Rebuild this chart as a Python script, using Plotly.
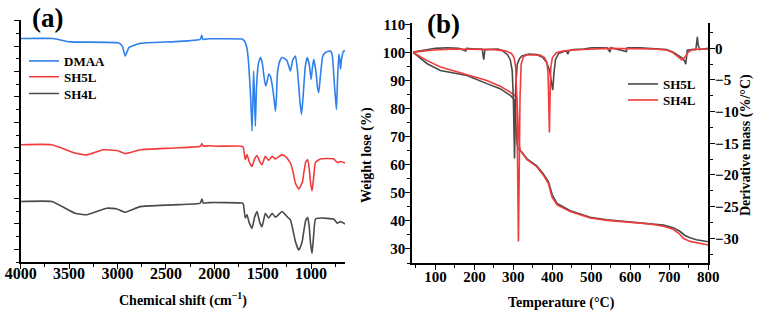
import plotly.graph_objects as go

# ---------------- Panel (a): FTIR spectra (arbitrary offset units) ----------------
dmaa_w = [4000, 3666, 3490, 2993, 2950, 2921, 2880, 2766, 2400, 2145, 2130, 2118, 2050, 1714, 1700, 1680,
          1662, 1645, 1625, 1610, 1600, 1594, 1585, 1576, 1565, 1545, 1524, 1505, 1490, 1470, 1455,
          1438, 1421, 1395, 1380, 1369, 1358, 1349, 1325, 1300, 1270, 1248, 1230, 1214, 1190, 1162,
          1140, 1115, 1100, 1085, 1060, 1041, 1020, 1000, 985, 973, 950, 935, 921, 905, 880, 852, 820,
          800, 780, 760, 745, 738, 728, 714, 705, 697, 685, 663, 645]
dmaa_t = [8.30, 8.30, 8.17, 8.13, 8.0, 7.61, 7.95, 8.11, 8.18, 8.27, 8.43, 8.27, 8.29, 8.28, 8.25, 8.15,
          7.9, 7.3, 6.0, 4.65, 6.1, 7.02, 6.0, 4.85, 6.3, 7.3, 7.55, 7.35, 6.9, 6.43, 6.6,
          6.9, 6.82, 6.3, 5.8, 5.44, 6.0, 6.89, 7.4, 7.55, 7.5, 7.42, 7.2, 7.02, 7.45, 7.61,
          7.0, 5.8, 5.31, 5.9, 7.2, 7.55, 7.3, 6.69, 7.2, 7.48, 7.0, 6.4, 6.17, 6.8, 7.6, 7.75, 7.8,
          7.81, 7.6, 6.5, 5.8, 5.51, 6.6, 7.68, 7.5, 7.09, 7.5, 7.81, 7.81]

sh5l_w = [4000, 3679, 3438, 3317, 3149, 3007, 2921, 2766, 2424, 2145, 2128, 2114, 2050, 1972, 1714, 1700,
          1680, 1662, 1640, 1610, 1585, 1559, 1530, 1507, 1473, 1439, 1403, 1369, 1300, 1266, 1240, 1214,
          1190, 1162, 1128, 1115, 1103, 1090, 1076, 1055, 1035, 1020, 1005, 990, 975, 955, 904, 766, 731,
          697, 645]
sh5l_t = [4.12, 4.12, 3.79, 3.72, 3.92, 3.89, 3.77, 3.92, 3.99, 4.06, 4.16, 4.06, 4.08, 4.06, 4.06, 4.0,
          3.53, 3.73, 3.45, 3.26, 3.55, 3.69, 3.45, 3.33, 3.66, 3.50, 3.66, 3.56, 3.73, 3.66, 3.55, 3.40,
          3.1, 2.6, 2.37, 2.45, 2.54, 2.65, 3.0, 3.45, 3.53, 3.2, 2.6, 2.30, 2.8, 3.42, 3.56, 3.56, 3.42,
          3.46, 3.40]

sh4l_w = [4000, 3679, 3438, 3317, 3110, 3007, 2921, 2766, 2424, 2145, 2128, 2114, 2050, 1714, 1700,
          1680, 1662, 1640, 1610, 1585, 1559, 1530, 1507, 1473, 1439, 1403, 1369, 1300, 1266, 1240, 1214,
          1190, 1162, 1128, 1115, 1103, 1090, 1076, 1055, 1035, 1020, 1005, 990, 975, 955, 904, 766, 731,
          697, 645]
sh4l_t = [1.88, 1.88, 1.42, 1.36, 1.62, 1.59, 1.46, 1.68, 1.75, 1.82, 1.98, 1.82, 1.84, 1.82, 1.78,
          1.23, 1.36, 1.05, 0.83, 1.25, 1.49, 1.05, 0.89, 1.42, 1.23, 1.42, 1.26, 1.49, 1.36, 1.25, 1.16,
          0.8, 0.3, -0.03, 0.05, 0.17, 0.35, 0.70, 1.15, 1.26, 0.9, 0.2, -0.16, 0.5, 1.19, 1.23, 1.19, 1.03,
          1.09, 0.99]

# ---------------- Panel (b): TGA / DTG ----------------
tga5_T = [43, 60, 79, 113, 150, 181, 232, 266, 292, 300, 303, 306, 309, 312, 320, 335, 360, 377, 390, 400,
          412, 446, 497, 540, 600, 650, 685, 710, 727, 740, 753, 770, 800]
tga5_W = [100.0, 98.0, 96.0, 93.6, 92.6, 91.8, 88.9, 87.1, 84.7, 83.6, 82.5, 75.0, 68.0, 65.6, 64.8, 62.1,
          59.6, 56.7, 53.9, 49.2, 46.2, 43.6, 41.3, 40.4, 39.6, 39.1, 38.5, 37.6, 36.3, 34.8, 34.0, 33.3, 32.6]

tga4_T = [43, 60, 79, 113, 150, 181, 232, 266, 292, 309, 311, 313, 315, 318, 335, 360, 377, 390, 399, 412,
          446, 497, 540, 600, 650, 685, 710, 725, 736, 753, 800]
tga4_W = [100.0, 98.6, 97.1, 94.8, 93.3, 92.1, 90.0, 88.0, 85.9, 84.1, 80.0, 72.0, 67.0, 65.0, 61.8, 59.3,
          56.3, 53.3, 48.5, 45.7, 43.3, 41.0, 40.2, 39.4, 38.9, 38.1, 37.0, 35.5, 33.8, 32.7, 31.4]

dtg5_T = [43, 60, 80, 100, 130, 160, 178, 180, 200, 220, 224, 227, 260, 270, 285, 292, 297, 300, 303, 306,
          310, 316, 322, 340, 360, 375, 385, 393, 398, 401, 404, 408, 416, 435, 440, 442, 454, 480, 500,
          540, 548, 550, 590, 592, 625, 660, 693, 710, 722, 727, 735, 740, 742, 744, 746, 760, 768, 770,
          772, 774, 778, 800]
dtg5_D = [-0.6, -0.4, -0.2, 0.0, 0.1, 0.0, -0.4, 0.0, -0.1, -0.1, -1.8, -0.2, -0.1, -0.3, -1.0, -1.8, -3.5,
          -8.0, -17.4, -6.0, -2.5, -1.6, -1.2, -0.9, -1.0, -1.4, -2.2, -3.5, -5.5, -6.6, -4.0, -1.8, -0.8,
          -0.4, -0.9, -0.4, -0.2, -0.1, 0.1, 0.1, -0.6, 0.1, -0.5, 0.1, 0.1, 0.0, -0.2, -0.6, -1.1, -1.3,
          -1.6, -2.1, -2.5, -1.5, -0.3, -0.2, -0.2, 0.8, 1.8, 0.5, -0.2, 0.0]

dtg4_T = [43, 60, 96, 150, 200, 250, 280, 295, 302, 306, 309, 311, 313, 315, 317, 320, 326, 335, 369, 380,
          386, 389, 391, 392.5, 394, 396, 400, 410, 430, 454, 540, 625, 660, 693, 710, 722, 732, 740,
          750, 761, 800]
dtg4_D = [-0.6, -0.5, -0.27, -0.1, -0.1, -0.2, -0.4, -0.8, -1.5, -3.0, -8.0, -20.0, -30.5, -20.0, -8.0,
          -2.5, -1.3, -1.05, -1.05, -1.5, -2.2, -4.0, -9.0, -13.3, -8.0, -3.0, -1.5, -0.7, -0.4, -0.27,
          0.0, 0.0, -0.1, -0.27, -0.7, -1.3, -1.85, -1.4, -0.5, -0.16, -0.1]

BLUE = "#2f80ea"
RED = "#f23c3c"
GRAY = "#4a4a4a"
FONT = "Liberation Serif"

fig = go.Figure()
fig.add_trace(go.Scatter(x=dmaa_w, y=dmaa_t, name="DMAA", mode="lines", showlegend=True,
                         line=dict(color=BLUE, width=1.6, shape="spline", smoothing=0.4),
                         xaxis="x", yaxis="y", legend="legend"))
fig.add_trace(go.Scatter(x=sh5l_w, y=sh5l_t, name="SH5L", mode="lines", showlegend=True,
                         line=dict(color=RED, width=1.6, shape="spline", smoothing=0.4),
                         xaxis="x", yaxis="y", legend="legend3"))
fig.add_trace(go.Scatter(x=sh4l_w, y=sh4l_t, name="SH4L", mode="lines", showlegend=True,
                         line=dict(color=GRAY, width=1.6, shape="spline", smoothing=0.4),
                         xaxis="x", yaxis="y", legend="legend4"))

fig.add_trace(go.Scatter(x=tga5_T, y=tga5_W, name="SH5L", mode="lines", showlegend=True,
                         line=dict(color=GRAY, width=1.6), xaxis="x2", yaxis="y2", legend="legend2"))
fig.add_trace(go.Scatter(x=dtg5_T, y=dtg5_D, name="SH5L", mode="lines", showlegend=False,
                         line=dict(color=GRAY, width=1.6), xaxis="x2", yaxis="y3", legend="legend2"))
fig.add_trace(go.Scatter(x=tga4_T, y=tga4_W, name="SH4L", mode="lines", showlegend=True,
                         line=dict(color=RED, width=1.6), xaxis="x2", yaxis="y2", legend="legend5"))
fig.add_trace(go.Scatter(x=dtg4_T, y=dtg4_D, name="SH4L", mode="lines", showlegend=False,
                         line=dict(color=RED, width=1.6), xaxis="x2", yaxis="y3", legend="legend5"))

W, H = 760, 317
def fx(px):
    return px / W
def fy(py):
    return 1 - py / H

BOLD = dict(family=FONT, color="black", weight=700)
tickfont = dict(size=15, **BOLD)
axis_common = dict(showline=True, linecolor="black", linewidth=1.6, ticks="outside", ticklen=5,
                   tickwidth=1.4, tickcolor="black", showgrid=False, zeroline=False, automargin=False)

def leg(xpx, toppx):
    return dict(x=fx(xpx), y=fy(toppx), xanchor="left", yanchor="top", bgcolor="rgba(0,0,0,0)",
                font=dict(size=13, **BOLD), tracegroupgap=0, borderwidth=0, visible=True)

def ann(text, xpx, ypx, size, angle=0):
    return dict(text=text, x=fx(xpx), y=fy(ypx), xref="paper", yref="paper", showarrow=False,
                xanchor="center", yanchor="middle", textangle=angle, font=dict(size=size, **BOLD))

fig.update_layout(
    width=W, height=H, margin=dict(l=0, r=0, t=0, b=0, autoexpand=False),
    paper_bgcolor="white", plot_bgcolor="white", showlegend=True,
    xaxis=dict(domain=[fx(20.7), fx(345)], range=[4000, 650], anchor="y", dtick=500, tick0=4000,
               tickfont=dict(size=16, **BOLD), ticklabelstandoff=-9,
               minor=dict(ticks="outside", ticklen=3, dtick=250, tickcolor="black", tickwidth=1.2),
               **axis_common),
    yaxis=dict(domain=[fy(262), fy(20)], range=[-0.5, 9.03], anchor="x", dtick=1, tick0=0,
               showticklabels=False,
               minor=dict(ticks="outside", ticklen=3, dtick=0.5, tickcolor="black", tickwidth=1.2),
               **axis_common),
    xaxis2=dict(domain=[fx(412), fx(708.3)], range=[40, 800], anchor="y2", dtick=100, tick0=0,
                tickfont=tickfont, ticklabelstandoff=-6,
                minor=dict(ticks="outside", ticklen=3, dtick=50, tickcolor="black", tickwidth=1.2),
                **axis_common),
    yaxis2=dict(domain=[fy(263), fy(23)], range=[25, 110.5], anchor="x2", dtick=10, tick0=0,
                tickfont=tickfont, ticklabelstandoff=-3,
                minor=dict(ticks="outside", ticklen=3, dtick=5, tickcolor="black", tickwidth=1.2),
                **axis_common),
    yaxis3=dict(range=[-33.9, 4.0], anchor="x2", overlaying="y2", side="right", dtick=5, tick0=0,
                tickfont=tickfont, ticklabelstandoff=-3,
                minor=dict(ticks="outside", ticklen=3, dtick=2.5, tickcolor="black", tickwidth=1.2),
                **axis_common),
    legend=leg(24, 46),
    legend3=leg(24, 61.8),
    legend4=leg(24, 78.5),
    legend2=leg(623, 69),
    legend5=leg(623, 85),
    annotations=[
        ann("(a)", 47, 18, 27),
        ann("(b)", 443, 24, 27),
        ann("Chemical shift (cm<sup>\u22121</sup>)", 183, 299, 14),
        ann("Temperature (\u00b0C)", 561, 303, 14),
        ann("Weight lose (%)", 367, 155, 14, -90),
        ann("Derivative mass (%/\u00b0C)", 746, 145, 14, -90),
    ],
)

fig.write_html("out.html")
